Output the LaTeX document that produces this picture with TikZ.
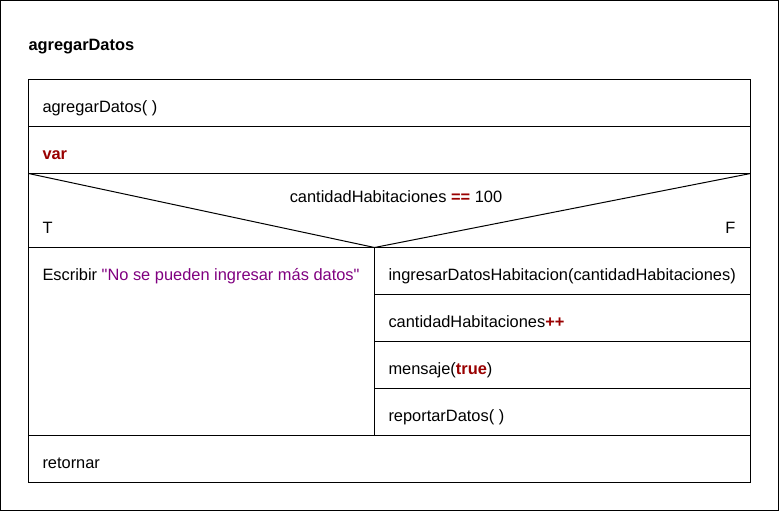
\documentclass[tikz,border=0pt]{standalone}
\usepackage{fontspec}
\setmainfont{Liberation Sans}
\definecolor{kwred}{RGB}{153,0,0}
\definecolor{strviolet}{RGB}{128,0,128}
\newcommand{\kw}[1]{\textcolor{kwred}{\textbf{#1}}}
\newcommand{\str}[1]{\textcolor{strviolet}{\textquotedbl#1\textquotedbl}}
\tikzset{
	txt/.style={anchor=base west,inner sep=0pt,font=\fontsize{16.4}{19}\selectfont},
	title/.style={txt,font=\fontsize{16.4}{19}\selectfont\bfseries}
}
\begin{document}
\begin{tikzpicture}[x=1pt,y=-1pt,line width=1pt]
\useasboundingbox (0,0) rectangle (779,511);
\draw (0.5,0.5) rectangle (778.5,510.5);
\draw (28.5,79.5) rectangle (750.5,482.5);
\foreach \y in {126.5,173.5,247.5,435.5}{
	\draw (28.5,\y) -- (750.5,\y);}
\foreach \y in {294.5,341.5,388.5}{
	\draw (374.5,\y) -- (750.5,\y);}
\draw (28.5,173.5) -- (374.5,247.5) -- (750.5,173.5);
\draw (374.5,247.5) -- (374.5,435.5);
\node[title] (titulo) at (28,51) {agregarDatos};
\node[txt] (cabecera) at (42,112) {agregarDatos( )};
\node[txt] (vars) at (42,159) {\kw{var}};
\node[txt,anchor=base] (cond) at (396,202) {cantidadHabitaciones \kw{==} 100};
\node[txt] (ramaT) at (42,233) {T};
\node[txt,anchor=base east] (ramaF) at (736,233) {F};
\node[txt] (escribir) at (42,280) {Escribir \str{No se pueden ingresar más datos}};
\node[txt] (ingresar) at (388,280) {ingresarDatosHabitacion(cantidadHabitaciones)};
\node[txt] (incremento) at (388,327) {cantidadHabitaciones\kw{++}};
\node[txt] (mensaje) at (388,374) {mensaje(\kw{true})};
\node[txt] (reportar) at (388,421) {reportarDatos( )};
\node[txt] (retornar) at (42,468) {retornar};
\end{tikzpicture}
\end{document}
